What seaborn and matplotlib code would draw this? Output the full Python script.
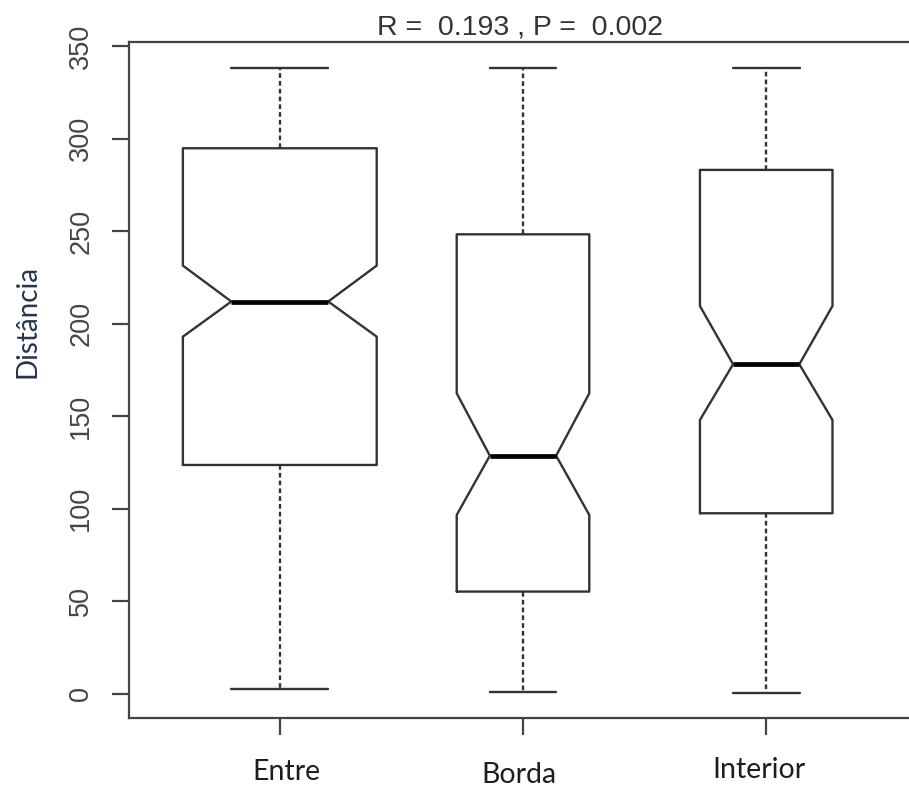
import matplotlib
matplotlib.use("Agg")
import matplotlib.pyplot as plt
import seaborn as sns

# box statistics
categories = ["Entre", "Borda", "Interior"]
whisker_low = [2.5, 1.3, 0.5]
quartile_1 = [123.7, 55.3, 97.6]
medians = [212.0, 128.7, 178.1]
quartile_3 = [294.8, 248.3, 283.1]
whisker_high = [338.3, 338.3, 338.3]
notch_low = [193.0, 96.7, 148.0]
notch_high = [231.4, 162.4, 209.6]
yticks = [0, 50, 100, 150, 200, 250, 300, 350]
title_text = "R =  0.193 , P =  0.002"
ylabel_text = "Distância"

sns.set_theme(style="ticks")
plt.rcParams['font.family'] = ['Liberation Sans', 'DejaVu Sans']

fig = plt.figure(figsize=(9.09, 7.89), dpi=100)
ax = fig.add_axes([129 / 909, 71 / 789, 788 / 909, 676 / 789])

stats = []
for i, cat in enumerate(categories):
    stats.append({
        'label': cat,
        'whislo': whisker_low[i],
        'q1': quartile_1[i],
        'med': medians[i],
        'q3': quartile_3[i],
        'whishi': whisker_high[i],
        'cilo': notch_low[i],
        'cihi': notch_high[i],
        'fliers': [],
    })

line_col = '#333333'
ax.bxp(stats, positions=[1, 2, 3], widths=[0.797, 0.545, 0.545],
       capwidths=[0.4, 0.274, 0.274],
       shownotches=True, showfliers=False, patch_artist=False,
       boxprops=dict(color=line_col, linewidth=1.7),
       whiskerprops=dict(color=line_col, linewidth=1.7, linestyle=(0, (2.0, 1.3))),
       capprops=dict(color=line_col, linewidth=1.7),
       medianprops=dict(color='black', linewidth=3.4))

ax.set_xlim(0.38, 3.62)
ax.set_ylim(-13, 352.2)
ax.set_yticks(yticks)
ax.set_yticklabels([str(v) for v in yticks], rotation=90, va='center',
                   fontsize=19.5, color='#444444')
ax.set_xticks([1, 2, 3])
ax.set_xticklabels([])
ax.tick_params(axis='both', direction='out', length=12, width=1.6, color='#444444')
ax.tick_params(axis='y', pad=13)

for side in ['left', 'right', 'top', 'bottom']:
    ax.spines[side].set_visible(True)
    ax.spines[side].set_color('#444444')
    ax.spines[side].set_linewidth(1.6)
ax.grid(False)
ax.set_facecolor('white')

# category names (typed in by hand in the original, slightly uneven)
offsets = [(6.6, -62), (-3.7, -65), (-7.5, -60)]
for i, cat in enumerate(categories):
    ax.annotate(cat, xy=(i + 1, 0), xycoords=('data', 'axes fraction'),
                xytext=offsets[i], textcoords='offset pixels',
                ha='center', va='baseline', fontsize=20.5,
                family=['Lato', 'DejaVu Sans'], color='#1e1e1e',
                annotation_clip=False)

fig.text(35 / 909, 1 - 322 / 789, ylabel_text, rotation=90, rotation_mode='anchor',
         ha='center', va='baseline', fontsize=20, family=['Lato', 'DejaVu Sans'],
         color='#23364d')

fig.text(520 / 909, 1 - 35 / 789, title_text, ha='center', va='baseline',
         fontsize=20.5, color='#333333')

fig.savefig('out.png', dpi=100, facecolor='white')
